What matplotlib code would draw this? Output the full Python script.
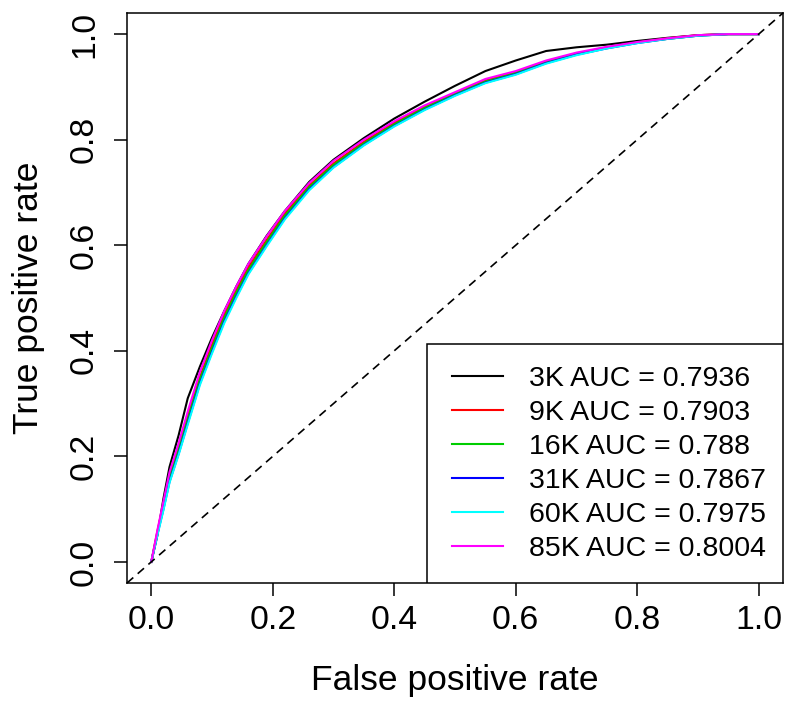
import matplotlib
matplotlib.use("Agg")

import matplotlib.pyplot as plt
from matplotlib.patches import Rectangle

plt.rcParams['font.family'] = ['Liberation Sans', 'DejaVu Sans']

#false positive rate grid shared by all curves
fpr = [0, 0.01, 0.02, 0.03, 0.045, 0.06, 0.08, 0.1, 0.12, 0.14, 0.16, 0.19, 0.22, 0.26,
       0.3, 0.35, 0.4, 0.45, 0.5, 0.55, 0.6, 0.65, 0.7, 0.75, 0.8, 0.85, 0.9, 0.95, 1.0]

#true positive rate
tpr_3k = [0, 0.05, 0.12, 0.18, 0.24, 0.31, 0.37, 0.425, 0.475, 0.522, 0.565, 0.618, 0.665, 0.72,
          0.762, 0.803, 0.84, 0.872, 0.902, 0.93, 0.95, 0.968, 0.975, 0.98, 0.987, 0.993, 0.998, 1, 1]
tpr_9k = [0, 0.058, 0.11, 0.163, 0.218, 0.277, 0.35, 0.412, 0.468, 0.515, 0.558, 0.61, 0.66, 0.713,
          0.755, 0.796, 0.832, 0.862, 0.888, 0.912, 0.928, 0.948, 0.963, 0.975, 0.984, 0.992, 0.998, 1, 1]
tpr_16k = [0, 0.055, 0.105, 0.158, 0.212, 0.27, 0.345, 0.405, 0.462, 0.51, 0.553, 0.606, 0.656, 0.71,
           0.752, 0.793, 0.829, 0.86, 0.886, 0.91, 0.926, 0.946, 0.962, 0.974, 0.984, 0.991, 0.997, 1, 1]
tpr_31k = [0, 0.052, 0.1, 0.152, 0.205, 0.263, 0.338, 0.398, 0.455, 0.503, 0.547, 0.6, 0.651, 0.706,
           0.748, 0.79, 0.826, 0.857, 0.884, 0.908, 0.924, 0.945, 0.961, 0.973, 0.983, 0.991, 0.997, 1, 1]
tpr_60k = [0, 0.05, 0.098, 0.15, 0.203, 0.26, 0.335, 0.395, 0.452, 0.5, 0.545, 0.598, 0.649, 0.704,
           0.747, 0.789, 0.825, 0.856, 0.883, 0.907, 0.923, 0.944, 0.96, 0.973, 0.983, 0.991, 0.997, 1, 1]
tpr_85k = [0, 0.06, 0.115, 0.17, 0.225, 0.285, 0.36, 0.42, 0.475, 0.522, 0.565, 0.617, 0.665, 0.718,
           0.76, 0.8, 0.835, 0.865, 0.89, 0.915, 0.93, 0.95, 0.965, 0.976, 0.985, 0.992, 0.998, 1, 1]

labels = ["3K AUC = 0.7936", "9K AUC = 0.7903", "16K AUC = 0.788",
          "31K AUC = 0.7867", "60K AUC = 0.7975", "85K AUC = 0.8004"]
colors = ["black", "#FF0000", "#00CD00", "#0000FF", "#00FFFF", "#FF00FF"]
curves = [tpr_3k, tpr_9k, tpr_16k, tpr_31k, tpr_60k, tpr_85k]

fig = plt.figure(figsize=(7.89, 7.05), dpi=100)
ax = fig.add_axes([127/789, 1 - 583/705, 656/789, 570/705])

for tpr, col, lab in zip(curves, colors, labels):
    ax.plot(fpr, tpr, color=col, linewidth=1.5, label=lab)

#chance line
ax.axline((0, 0), (1, 1), color="black", linestyle=(0, (5, 3.5)), linewidth=1.2)

ax.set_xlim(-0.04, 1.04)
ax.set_ylim(-0.04, 1.04)
ticks = [0, 0.2, 0.4, 0.6, 0.8, 1.0]
ax.set_xticks(ticks)
ax.set_yticks(ticks)
ax.set_xticklabels([f"{t:.1f}" for t in ticks])
ax.set_yticklabels([f"{t:.1f}" for t in ticks], rotation=90, va="center")
ax.tick_params(labelsize=24.3, length=9.5, width=1.1)
ax.tick_params(axis="x", pad=6.5)
ax.tick_params(axis="y", pad=10)
for s in ax.spines.values():
    s.set_linewidth(1.1)

ax.set_xlabel("False positive rate", fontsize=25.5, labelpad=20)
ax.set_ylabel("True positive rate", fontsize=25.5, labelpad=17)

#R style legend box in the lower right corner, wider margin on the left
ax.add_patch(Rectangle((0.4573, 0), 0.5427, 0.4193, transform=ax.transAxes,
                       facecolor="white", edgecolor="black", linewidth=1.1, zorder=4))
leg = ax.legend(loc="center left", bbox_to_anchor=(0.4954, 0.2088), fontsize=20.5,
                frameon=False, borderpad=0, borderaxespad=0, handlelength=1.8,
                handletextpad=0.91, labelspacing=0.28)
leg.set_zorder(5)

plt.savefig("out.png")
